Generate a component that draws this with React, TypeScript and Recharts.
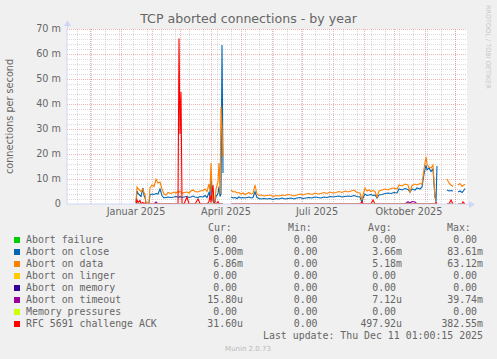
import {
  CartesianGrid,
  Line,
  LineChart,
  ReferenceLine,
  XAxis,
  YAxis,
} from "recharts";

// Day offsets counted from 1 Jan 2025, values in milli-aborts per second.
const days = [
  15, 16, 17, 19, 20, 22, 23, 24, 25, 28, 29, 31, 33, 35, 37, 39, 41, 43, 45, 47,
  50, 53, 55, 57, 58, 59, 60, 61, 63, 66, 68, 70, 72, 74, 77, 79, 82, 84, 86, 88,
  89, 90, 91, 92, 93, 94, 95, 97, 98, 99, 100, 101, 102, 103, 110, 112, 114, 116, 118, 120,
  122, 124, 126, 128, 130, 132, 134, 136, 138, 140, 143, 146, 149, 152, 155, 158, 161, 164, 167, 170,
  173, 176, 179, 182, 185, 188, 191, 194, 197, 200, 203, 206, 209, 212, 215, 218, 221, 224, 227, 230,
  233, 236, 239, 241, 242, 244, 246, 248, 250, 252, 254, 256, 258, 261, 264, 267, 270, 273, 276, 278,
  281, 284, 287, 289, 291, 294, 296, 299, 301, 303, 305, 306, 308, 310, 312, 313, 314, 315, 316, 317,
  326, 328, 330, 332, 333, 337, 339, 341, 342, 344,
];

const abortOnClose = [
  0.5, 5.2, 4.2, 3.4, 3.0, 6.4, 3.4, 2.6, 0.3, 0.3, 3.6, 4.0, 3.8, 4.2, 4.0, 6.0, 3.4, 2.4, 2.6, 2.8,
  2.6, 2.8, 3.0, 2.8, 2.6, 3.0, 2.8, 2.6, 2.8, 3.0, 2.6, 2.8, 3.2, 2.8, 2.6, 3.0, 2.8, 3.4, 2.6, 4.6,
  3.0, 11.0, 4.0, 1.2, 0.4, 0.6, 3.0, 4.2, 7.0, 3.0, 4.0, 63.6, 12.4, null, 2.8, 2.4, 2.6, 2.2, 2.8, 2.4,
  2.6, 2.4, 2.6, 2.8, 2.4, 2.6, 4.9, 2.6, 2.2, 2.0, 2.2, 2.0, 2.2, 1.8, 2.2, 2.0, 2.4, 2.0, 2.2, 2.4,
  2.0, 2.4, 2.6, 2.2, 2.4, 2.6, 2.4, 2.8, 2.6, 2.4, 2.8, 2.6, 3.0, 2.8, 3.0, 3.2, 2.8, 3.0, 3.2, 3.0,
  3.4, 3.0, 2.8, 0.6, 2.4, 4.0, 3.4, 3.6, 3.8, 3.4, 3.6, 2.4, 3.6, 3.8, 4.2, 4.4, 4.2, 4.6, 4.4, 6.0,
  5.6, 6.2, 5.8, 4.8, 6.0, 5.6, 6.4, 6.0, 6.8, 12.0, 15.6, 13.6, 14.4, 13.0, 14.0, 8.0, 3.0, 1.0, 15.2, null,
  5.6, 5.2, 5.4, 5.2, null, 4.8, 5.2, 4.6, 5.0, 6.2,
];

const abortOnData = [
  0.8, 6.8, 6.2, 5.4, 5.0, 6.0, 4.4, 4.0, 0.4, 0.5, 6.4, 7.6, 7.0, 9.9, 8.4, 8.8, 6.0, 4.0, 3.6, 4.6,
  4.2, 4.8, 4.4, 5.0, 4.6, 5.2, 4.8, 4.2, 4.6, 4.8, 4.4, 5.2, 5.6, 5.0, 4.8, 5.2, 5.4, 6.0, 5.0, 8.0,
  5.0, 16.4, 6.4, 2.0, 0.8, 1.2, 6.0, 9.0, 16.4, 4.0, 39.0, 30.0, 19.0, null, 5.6, 4.8, 5.0, 4.4, 4.6, 4.0,
  4.4, 3.8, 4.2, 4.6, 4.0, 4.2, 7.6, 4.0, 3.4, 3.6, 3.2, 3.4, 3.6, 3.0, 3.4, 3.2, 3.6, 3.4, 3.8, 3.6,
  3.2, 3.6, 4.0, 3.6, 4.0, 4.2, 3.8, 4.4, 4.0, 4.2, 4.6, 4.2, 4.8, 4.4, 4.6, 5.0, 4.6, 5.2, 4.8, 5.2,
  5.6, 4.6, 4.4, 1.6, 3.6, 6.4, 5.2, 5.6, 5.0, 5.4, 5.0, 2.8, 5.2, 5.6, 6.0, 5.6, 6.2, 6.4, 6.0, 7.6,
  7.2, 8.0, 7.6, 4.8, 7.4, 8.0, 7.6, 8.2, 8.0, 14.0, 18.9, 16.0, 14.8, 14.4, 15.6, 9.0, 2.4, 2.0, null, null,
  10.0, 8.4, 7.6, 7.0, null, 7.6, 8.2, 7.0, 7.4, 7.8,
];

const abortOnTimeout = [
  0, 0, 0, 0, 0, 0, 0, 0, 0, 0, 0, 0, 0, 0.8, 0, 0, 0, 0, 0, 0,
  0, 0, 0, 0, 0, 0, 0, 0, 0, 0, 0, 0, 0, 0, 0, 0, 0, 0, 0, 0,
  0, 0, 0, 0, 0, 0, 0, 0, 0, 0, 0, 0, 0, null, 0, 0, 0, 0, 0, 0,
  0, 0, 0, 0, 0, 0, 0, 0, 0, 0, 0, 0, 0, 0, 0, 0, 0, 0, 0, 0,
  0, 0, 0, 0, 0, 0, 0, 0, 0, 0, 0, 0, 0, 0, 0, 0, 0, 0, 0, 0,
  0, 0, 0, 0, 0, 0, 0, 0, 0, 0, 0, 0, 0, 0, 0, 0, 0, 0, 0, 0,
  0, 0, 0.9, 0.4, 1.0, 0.8, 0, 0, 0, 0, 0, 0, 0, 0, 0, 0, 0, 0, 0, null,
  0, 0, 0, 0, null, 0, 0, 0, 0, 0,
];

const rfcChallengeAck = [
  0.2, 1.6, 0.6, 1.4, 0.2, 0.6, 0, 0.4, 0, 0, 0, 0, 0, 0, 0, 0, 0, 0, 0, 0,
  0, 0, 0, 0, 66.2, 28.0, 44.8, 0.4, 0, 2.8, 0, 0, 0, 0, 2.0, 0.2, 0, 0, 0, 1.0,
  3.6, 0.5, 5.0, 7.6, 0.6, 0, 0, 1.0, 0, 0, 0, 0, 0, null, 0, 0, 0, 0, 0, 0,
  0, 0, 0, 0, 0, 0, 0, 0, 0, 0, 0, 0, 0, 0, 0, 0, 0, 0, 0, 0,
  0, 0, 0, 0, 0, 0, 0, 0, 0, 0, 0, 0, 0, 0, 0, 0, 0, 0, 0, 0,
  0, 0, 0, 1.0, 0, 0, 0, 0, 0, 1.6, 0, 0, 0, 0, 0, 0, 0, 0, 0, 0,
  0, 0, 0, 0, 0, 0, 0, 0, 0, 0, 0, 0, 0, 0, 0, 0, 0, 0.8, 0, null,
  0, 0, 1.6, 0, null, 0, 0, 0, 0.8, 0,
];

const yTicks = [0, 10, 20, 30, 40, 50, 60, 70];
const labelDays = [15, 105, 196, 288];
const labelTexts = ["Januar 2025", "April 2025", "Juli 2025", "Oktober 2025"];
const monthStarts = [-31, 0, 31, 59, 90, 120, 151, 181, 212, 243, 273, 304, 334];

const legendNames = [
  "Abort failure",
  "Abort on close",
  "Abort on data",
  "Abort on linger",
  "Abort on memory",
  "Abort on timeout",
  "Memory pressures",
  "RFC 5691 challenge ACK",
];
const legendColors = ["#00CC00", "#0066B3", "#FF8000", "#FFCC00", "#330099", "#990099", "#CCFF00", "#FF0000"];
const curValues = ["0.00", "5.00m", "6.86m", "0.00", "0.00", "15.80u", "0.00", "31.60u"];
const minValues = ["0.00", "0.00", "0.00", "0.00", "0.00", "0.00", "0.00", "0.00"];
const avgValues = ["0.00", "3.66m", "5.18m", "0.00", "0.00", "7.12u", "0.00", "497.92u"];
const maxValues = ["0.00", "83.61m", "63.12m", "0.00", "0.00", "39.74m", "0.00", "382.55m"];

const seriesKeys = ["failure", "close", "data", "linger", "memory", "timeout", "pressure", "rfc"];

const rows = days.map((day, i) => {
  const zero = abortOnClose[i] === null ? null : 0;
  return {
    day,
    failure: zero,
    close: abortOnClose[i],
    data: abortOnData[i],
    linger: zero,
    memory: zero,
    timeout: abortOnTimeout[i],
    pressure: zero,
    rfc: rfcChallengeAck[i],
  };
});

const minorY = Array.from({ length: 35 }, (_, i) => i * 2).filter((v) => v % 10 !== 0);
const minorX = Array.from({ length: 28 }, (_, i) => -44 + i * 14);

const FONT = "'DejaVu Sans', sans-serif";
const MONO = "'DejaVu Sans Mono', monospace";
const TEXT = "#666666";
const AXIS = "#CFD6F8";
const GRID = "rgba(150,150,150,0.35)";
const MGRID = "rgba(222,90,90,0.45)";

const withUnit = (v: string) => (/[a-z]$/.test(v) ? v : v + " ");

export default function App() {
  const columns = [
    { head: "Cur:", headX: 208, right: 243, values: curValues },
    { head: "Min:", headX: 288, right: 323.5, values: minValues },
    { head: "Avg:", headX: 368, right: 402, values: avgValues },
    { head: "Max:", headX: 447, right: 483, values: maxValues },
  ];

  return (
    <div
      style={{
        position: "absolute",
        left: 0,
        top: 0,
        width: 497,
        height: 359,
        background: "#F0F0F0",
        overflow: "hidden",
      }}
    >
      <LineChart
        width={497}
        height={359}
        data={rows}
        margin={{ top: 29, right: 30, bottom: 135, left: 0 }}
      >
        <CartesianGrid horizontal={false} vertical={false} fill="#FFFFFF" />
        {minorY.map((v) => (
          <ReferenceLine key={`my${v}`} y={v} stroke={GRID} strokeDasharray="1 1" shapeRendering="crispEdges" />
        ))}
        {minorX.map((v) => (
          <ReferenceLine key={`mx${v}`} x={v} stroke={GRID} strokeDasharray="1 1" shapeRendering="crispEdges" />
        ))}
        {yTicks.slice(1).map((v) => (
          <ReferenceLine key={`My${v}`} y={v} stroke={MGRID} strokeDasharray="1 1" shapeRendering="crispEdges" />
        ))}
        {monthStarts.map((v) => (
          <ReferenceLine key={`Mx${v}`} x={v} stroke={MGRID} strokeDasharray="1 1" shapeRendering="crispEdges" />
        ))}
        <XAxis
          type="number"
          dataKey="day"
          domain={[-54, 346]}
          allowDataOverflow
          ticks={labelDays}
          interval={0}
          tickFormatter={(v: number) => labelTexts[labelDays.indexOf(v)] ?? ""}
          height={20}
          tickSize={0}
          tickMargin={4}
          tickLine={false}
          axisLine={{ stroke: AXIS }}
          tick={{ fontSize: 9.7, fill: TEXT, fontFamily: FONT }}
        />
        <YAxis
          type="number"
          domain={[0, 70]}
          allowDataOverflow
          ticks={yTicks}
          interval={0}
          tickFormatter={(v: number) => (v === 0 ? "0" : `${v} m`)}
          width={67}
          tickSize={0}
          tickMargin={6}
          tickLine={false}
          axisLine={{ stroke: AXIS }}
          tick={{ fontSize: 9.7, fill: TEXT, fontFamily: FONT }}
        />
        {seriesKeys.map((key, i) => (
          <Line
            key={key}
            dataKey={key}
            type="linear"
            stroke={legendColors[i]}
            strokeWidth={1.1}
            dot={false}
            activeDot={false}
            connectNulls={false}
            isAnimationActive={false}
          />
        ))}
      </LineChart>

      <svg
        width={497}
        height={359}
        style={{ position: "absolute", left: 0, top: 0, pointerEvents: "none" }}
      >
        <text x={248.5} y={23} textAnchor="middle" fontFamily={FONT} fontSize={12.6} fill={TEXT}>
          TCP aborted connections - by year
        </text>
        <text
          transform="translate(13,116.5) rotate(-90)"
          textAnchor="middle"
          fontFamily={FONT}
          fontSize={9.7}
          fill={TEXT}
        >
          connections per second
        </text>
        <text
          transform="translate(485.5,5) rotate(90)"
          fontFamily={FONT}
          fontSize={6.5}
          fill="#C8C8C8"
        >
          RRDTOOL / TOBI OETIKER
        </text>

        {/* axis arrows */}
        <line x1={67.5} y1={29} x2={67.5} y2={25} stroke={AXIS} />
        <polygon points="64,26 71,26 67.5,20" fill={AXIS} />
        <line x1={467} y1={204.5} x2={469} y2={204.5} stroke={AXIS} />
        <polygon points="469,201 469,208 475,204.5" fill={AXIS} />

        {/* legend */}
        {columns.map((c) => (
          <text key={c.head} x={c.headX} y={231} fontFamily={MONO} fontSize={9.9} fill={TEXT}>
            {c.head}
          </text>
        ))}
        {legendNames.map((name, i) => {
          const y = 243 + i * 12;
          return (
            <g key={name}>
              <rect x={14} y={y - 6} width={6} height={6} fill={legendColors[i]} />
              <text x={26} y={y} fontFamily={MONO} fontSize={9.9} fill={TEXT}>
                {name}
              </text>
              {columns.map((c) => (
                <text
                  key={c.head}
                  x={c.right}
                  y={y}
                  textAnchor="end"
                  fontFamily={MONO}
                  fontSize={9.9}
                  fill={TEXT}
                  style={{ whiteSpace: "pre" }}
                >
                  {withUnit(c.values[i])}
                </text>
              ))}
            </g>
          );
        })}
        <text x={483} y={339} textAnchor="end" fontFamily={MONO} fontSize={9.9} fill={TEXT}>
          Last update: Thu Dec 11 01:00:15 2025
        </text>
        <text x={248} y={350.5} textAnchor="middle" fontFamily={FONT} fontSize={7} fill="#B8B8B8">
          Munin 2.0.73
        </text>
      </svg>
    </div>
  );
}
